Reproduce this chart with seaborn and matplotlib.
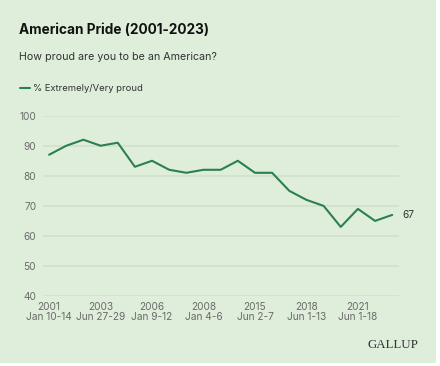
import numpy as np
import pandas as pd
import matplotlib
matplotlib.use("Agg")
import matplotlib.pyplot as plt
import seaborn as sns

# survey points, evenly spaced on the chart
pride = [87, 90, 92, 90, 91, 83, 85, 82, 81, 82, 82, 85, 81, 81, 75, 72, 70, 63, 69, 65, 67]
tick_idx = [0, 3, 6, 9, 12, 15, 18]
tick_labels = ["2001\nJan 10-14", "2003\nJun 27-29", "2006\nJan 9-12", "2008\nJan 4-6",
               "2015\nJun 2-7", "2018\nJun 1-13", "2021\nJun 1-18"]
series_name = "% Extremely/Very proud"

df = pd.DataFrame({"idx": np.arange(len(pride)), "value": pride})

bg = "#dfeedb"
green = "#2b8050"
sns.set_style("white")
plt.rcParams['font.family'] = ['Inter', 'DejaVu Sans']

fig = plt.figure(figsize=(4.4, 3.66), dpi=100, facecolor="white")
# card background with a thin white edge at right and bottom
fig.patches.append(plt.Rectangle((0, 3 / 366), 436 / 440, 1, transform=fig.transFigure,
                                 facecolor=bg, edgecolor="none", zorder=-10))
ax = fig.add_axes([0.098, 0.191, 0.809, 0.493], facecolor=bg)

sns.lineplot(data=df, x="idx", y="value", ax=ax, color=green, linewidth=1.5, legend=False)

ax.set_xlim(-0.35, 20.4)
ax.set_ylim(40, 100)
ax.set_yticks(range(40, 101, 10))
ax.set_xticks(tick_idx)
ax.set_xticklabels(tick_labels, linespacing=1.1)
ax.grid(axis="y", color="#d0e0cc", linewidth=1.2)
ax.grid(axis="x", visible=False)
for s in ax.spines.values():
    s.set_visible(False)
ax.tick_params(axis="both", length=0, labelsize=7.3, labelcolor="#6b6b6b")
ax.tick_params(axis="y", pad=5)
ax.tick_params(axis="x", pad=4)
ax.set_xlabel("")
ax.set_ylabel("")

ax.annotate(str(pride[-1]), xy=(len(pride) - 1, pride[-1]), xytext=(7, 0),
            textcoords="offset points", va="center", ha="left", fontsize=7.3, color="#333333")

fig.text(0.043, 0.918, "American Pride (2001-2023)", fontsize=9.8, fontweight="bold",
         color="#111111", va="center")
fig.text(0.043, 0.845, "How proud are you to be an American?", fontsize=7.7,
         color="#333333", va="center")
fig.add_artist(plt.Line2D([0.045, 0.068], [0.759, 0.759], color=green, linewidth=1.5,
                          transform=fig.transFigure))
fig.text(0.074, 0.759, series_name, fontsize=6.8, color="#333333", va="center")
fig.text(0.95, 0.057, "GALLUP", fontsize=9.3, color="#333333", ha="right", va="center",
         family="Liberation Serif")

fig.savefig("out.png", dpi=100, facecolor="white")
